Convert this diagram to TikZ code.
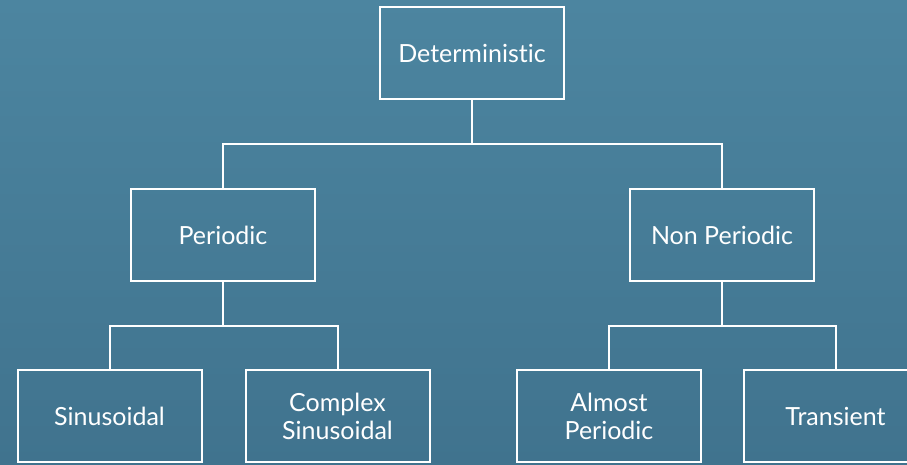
\documentclass[tikz,border=0pt]{standalone}
\usepackage{fontspec}
\setmainfont{Lato}[Ligatures={NoCommon,NoContextual}]
\usetikzlibrary{calc}
\definecolor{bgtop}{RGB}{76,133,160}
\definecolor{bgbot}{RGB}{64,115,142}
\tikzset{
  box/.style={draw=white, line width=2pt, minimum width=184pt, minimum height=92pt,
    inner sep=0pt, text=white, align=center,
    font=\fontsize{25}{28}\selectfont},
  conn/.style={draw=white, line width=2pt}
}
\begin{document}
\begin{tikzpicture}[x=1pt,y=-1pt]
\useasboundingbox (0,0) rectangle (907,464);
\clip (0,0) rectangle (907,464);
\shade[top color=bgtop, bottom color=bgbot] (0,0) rectangle (907,464);
\node[box] (det) at (472,53) {Deterministic};
\node[box] (per) at (223,235) {Periodic};
\node[box] (non) at (722,235) {Non Periodic};
\node[box] (sin) at (109.5,416) {Sinusoidal};
\node[box] (com) at (337.5,416) {Complex\\Sinusoidal};
\node[box] (alm) at (609,416) {Almost\\Periodic};
\node[box] (tra) at (835.5,416) {Transient};
\coordinate (j1) at ($(det.south)!0.5!(det.south|-per.north)$);
\coordinate (j2) at ($(per.south)!0.5!(per.south|-sin.north)$);
\coordinate (j3) at ($(non.south)!0.5!(non.south|-alm.north)$);
\draw[conn] (det.south) -- (j1) -| (per.north);
\draw[conn] (j1) -| (non.north);
\draw[conn] (per.south) -- (j2) -| (sin.north);
\draw[conn] (j2) -| (com.north);
\draw[conn] (non.south) -- (j3) -| (alm.north);
\draw[conn] (j3) -| (tra.north);
\end{tikzpicture}
\end{document}
